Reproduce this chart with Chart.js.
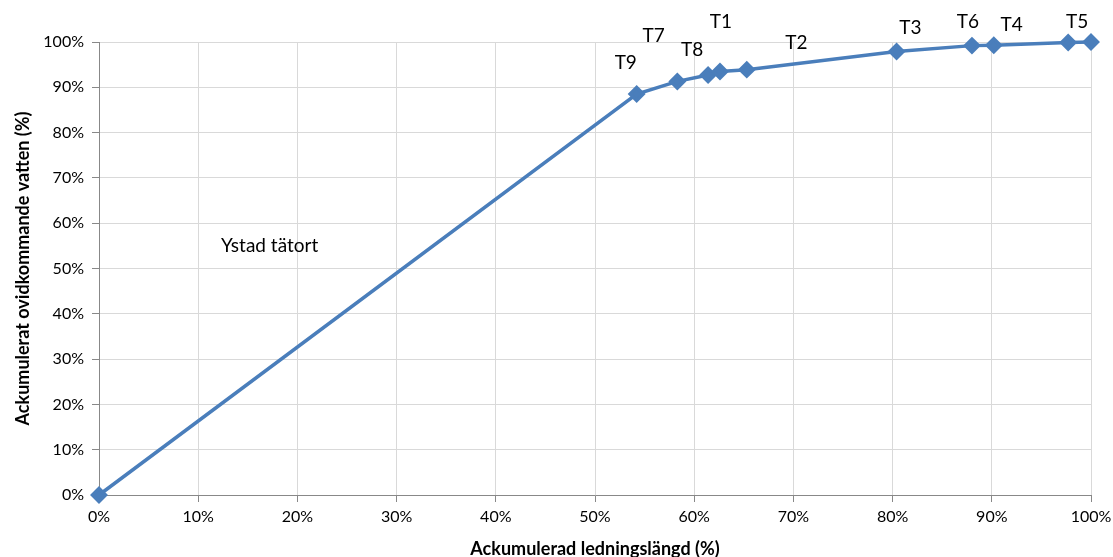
<!DOCTYPE html>
<html><head><meta charset="utf-8">
<script src="https://cdn.jsdelivr.net/npm/chart.js@4/dist/chart.umd.min.js"></script>
<style>html,body{margin:0;padding:0;background:#fff}#wrap{width:1113px;height:557px}</style>
</head><body><div id="wrap"><canvas id="c"></canvas></div>
<script>
const xValues = [0, 54.2, 58.3, 61.4, 62.6, 65.3, 80.4, 88.0, 90.2, 97.7, 100];
const yValues = [0, 88.5, 91.3, 92.7, 93.5, 93.9, 97.9, 99.2, 99.3, 99.9, 100];
const labelNames = ['T9','T7','T8','T1','T2','T3','T6','T4','T5','Ystad tätort'];
const labelX = [53.1, 55.9, 59.8, 62.7, 70.3, 81.8, 87.6, 92.0, 98.6, 17.2];
const labelY = [95.4, 101.4, 98.3, 104.5, 99.8, 103.2, 104.5, 103.8, 104.5, 55.0];
const xTitle = 'Ackumulerad ledningslängd (%)';
const yTitle = 'Ackumulerat ovidkommande vatten (%)';

const pts = xValues.map((x,i)=>({x, y:yValues[i]}));
const FONT = 'Lato, "Open Sans", sans-serif';

const labelPlugin = {
  id:'labels',
  afterDatasetsDraw(chart){
    const {ctx, scales:{x, y}} = chart;
    ctx.save();
    ctx.font = '19px ' + FONT;
    ctx.fillStyle = '#000';
    ctx.textAlign = 'center';
    ctx.textBaseline = 'middle';
    labelNames.forEach((t,i)=>{
      ctx.fillText(t, x.getPixelForValue(labelX[i]), y.getPixelForValue(labelY[i]));
    });
    ctx.restore();
  }
};

new Chart(document.getElementById('c'), {
  type:'scatter',
  data:{datasets:[{
    data: pts,
    showLine:true,
    clip:false,
    borderColor:'#4a7ebb',
    backgroundColor:'#4a7ebb',
    borderWidth:3.5,
    pointStyle:'rectRot',
    pointRadius:6.5,
    pointHoverRadius:6.5,
    tension:0
  }]},
  options:{
    responsive:true, maintainAspectRatio:false, animation:false,
    layout:{padding:{left:0, top:42, right:22, bottom:0}},
    plugins:{legend:{display:false}, tooltip:{enabled:false}},
    scales:{
      x:{
        type:'linear', min:0, max:100,
        ticks:{stepSize:10, padding:5, color:'#000', font:{family:FONT, size:16}, callback:v=>v+'%'},
        grid:{color:'#d9d9d9', tickColor:'#888', tickLength:7},
        border:{color:'#888'},
        title:{display:true, text:xTitle, color:'#000', font:{family:FONT, size:18, weight:'bold'}, padding:{top:0,bottom:-3}},
        afterFit(s){ s.height = 62; s.paddingRight = 0; s.paddingLeft = 0; }
      },
      y:{
        type:'linear', min:0, max:100,
        ticks:{stepSize:10, padding:8, color:'#000', font:{family:FONT, size:16}, callback:v=>v+'%'},
        grid:{color:'#d9d9d9', tickColor:'#888', tickLength:7},
        border:{color:'#888'},
        title:{display:true, text:yTitle, color:'#000', font:{family:FONT, size:18, weight:'bold'}, padding:{top:12,bottom:0}},
        afterFit(s){ s.width = 99; s.paddingTop = 0; s.paddingBottom = 0; }
      }
    }
  },
  plugins:[labelPlugin]
});
</script></body></html>
